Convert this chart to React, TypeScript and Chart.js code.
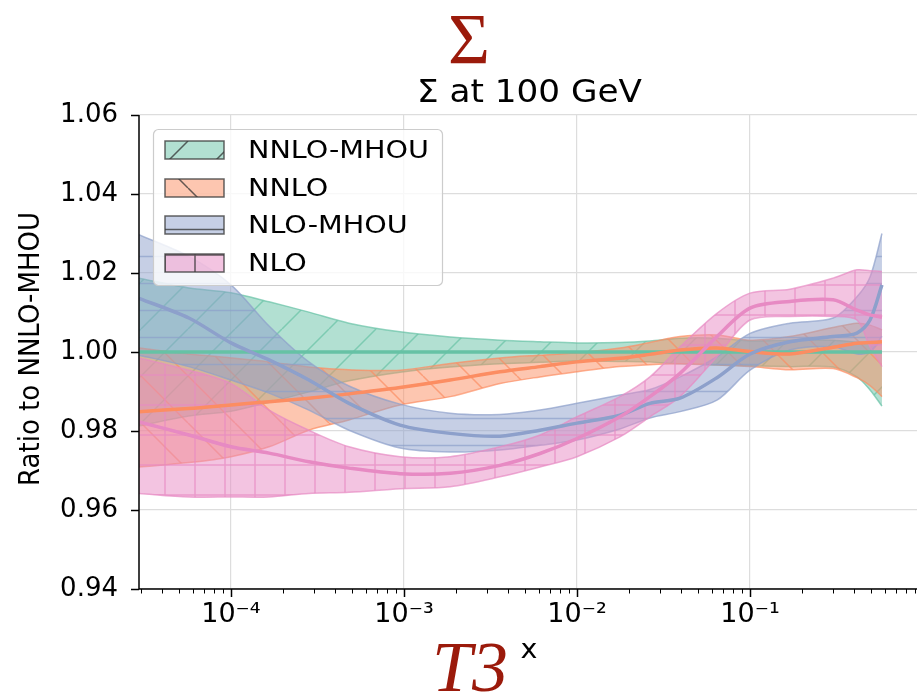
import React, { useEffect, useRef } from 'react';
import { Chart, registerables } from 'chart.js';

Chart.register(...registerables);

// ---------------- data ----------------
const X_VALUES = [
  2.94e-5, 5.71e-5, 1.0e-4, 1.66e-4, 2.82e-4, 4.81e-4, 9.49e-4, 1.85e-3, 3.59e-3, 6.11e-3,
  1.0e-2, 1.77e-2, 2.64e-2, 3.94e-2, 6.44e-2, 0.1, 0.17, 0.302, 0.415, 0.494, 0.579,
];

const NNLO_MHOU_CENTRAL = [
  1.0, 1.0, 1.0, 1.0, 1.0, 1.0, 1.0, 1.0, 1.0, 1.0, 1.0, 1.0, 1.0, 1.0, 1.0, 1.0, 1.0, 1.0, 1.0, 1.0, 1.0,
];
const NNLO_MHOU_UPPER = [
  1.0187, 1.0162, 1.015, 1.0127, 1.0101, 1.0073, 1.0051, 1.0038, 1.003, 1.0026,
  1.0023, 1.0024, 1.0028, 1.0035, 1.0035, 1.0028, 1.003, 1.003, 1.0025, 1.0022, 1.002,
];
const NNLO_MHOU_LOWER = [
  0.9813, 0.9838, 0.985, 0.9873, 0.9899, 0.9927, 0.9949, 0.9962, 0.997, 0.9974,
  0.9977, 0.9976, 0.9975, 0.997, 0.9967, 0.9965, 0.9963, 0.9962, 0.9937, 0.9904, 0.9863,
];

const NNLO_CENTRAL = [
  0.9849, 0.9857, 0.9866, 0.9874, 0.9883, 0.9894, 0.991, 0.9929, 0.995, 0.9963,
  0.9975, 0.9984, 0.9994, 1.0005, 1.001, 1.0001, 0.9995, 1.0012, 1.0022, 1.0024, 1.0026,
];
const NNLO_UPPER = [
  1.001, 0.9995, 0.9985, 0.9975, 0.9962, 0.9955, 0.9954, 0.9971, 0.9985, 0.9992,
  0.9998, 1.001, 1.0024, 1.0039, 1.0043, 1.003, 1.0039, 1.0062, 1.0073, 1.0068, 1.0056,
];
const NNLO_LOWER = [
  0.9709, 0.972, 0.9735, 0.976, 0.9802, 0.9828, 0.9866, 0.9887, 0.992, 0.9937,
  0.995, 0.9963, 0.9968, 0.997, 0.9967, 0.9963, 0.9955, 0.9958, 0.9935, 0.9915, 0.9887,
];

const NLO_MHOU_CENTRAL = [
  1.0136, 1.0086, 1.0023, 0.998, 0.9929, 0.987, 0.9815, 0.9794, 0.9787, 0.9802,
  0.982, 0.984, 0.987, 0.9883, 0.9935, 0.9995, 1.0026, 1.0039, 1.0048, 1.0081, 1.017,
];
const NLO_MHOU_UPPER = [
  1.0297, 1.0242, 1.017, 1.0066, 0.9975, 0.9914, 0.9868, 0.9845, 0.9842, 0.9853,
  0.987, 0.9891, 0.9905, 0.9937, 0.9988, 1.0047, 1.0073, 1.0086, 1.014, 1.019, 1.03,
];
const NLO_MHOU_LOWER = [
  0.9992, 0.9963, 0.9929, 0.9896, 0.9853, 0.9802, 0.9757, 0.9747, 0.9752, 0.9764,
  0.9777, 0.9805, 0.9833, 0.9849, 0.9878, 0.9954, 1.0005, 1.0013, 0.9995, 1.0, 1.004,
];

const NLO_CENTRAL = [
  0.9823, 0.979, 0.976, 0.9744, 0.9722, 0.9706, 0.9692, 0.9693, 0.9713, 0.9743,
  0.9781, 0.9836, 0.9887, 0.9946, 1.0039, 1.0111, 1.0128, 1.0132, 1.0106, 1.0094, 1.0088,
];
const NLO_UPPER = [
  0.9985, 0.9954, 0.992, 0.9853, 0.9802, 0.976, 0.9735, 0.9735, 0.976, 0.979,
  0.9836, 0.9887, 0.9937, 1.0013, 1.0098, 1.0149, 1.0159, 1.0187, 1.0208, 1.0206, 1.0204,
];
const NLO_LOWER = [
  0.9642, 0.9633, 0.9633, 0.9633, 0.9642, 0.9645, 0.9654, 0.9659, 0.9684, 0.9709,
  0.9735, 0.9785, 0.9836, 0.9887, 0.9988, 1.0081, 1.009, 1.009, 1.0081, 1.0013, 0.9963,
];

const SERIES_LABELS = ['NNLO-MHOU', 'NNLO', 'NLO-MHOU', 'NLO'];
const Y_TICKS = [0.94, 0.96, 0.98, 1.0, 1.02, 1.04, 1.06];
const X_TICK_VALUES = [1e-4, 1e-3, 1e-2, 1e-1];
const X_TICK_LABELS = ['10\u207B\u2074', '10\u207B\u00B3', '10\u207B\u00B2', '10\u207B\u00B9'];
const TITLE_TOP = '\u03A3';
const SUBTITLE = '\u03A3 at 100 GeV';
const XLABEL_BIG = 'T3';
const XLABEL = 'x';
const YLABEL = 'Ratio to NNLO-MHOU';

// ---------------- styling ----------------
const X_MIN = 2.94e-5;
const X_MAX = 0.923;
const W = 917;
const H = 695;
const PLOT_LEFT = 139;
const PLOT_TOP = 115;
const PLOT_BOTTOM = 589;

const STYLE = [
  { rgb: '102,194,165', hatch: '/', size: 47 },
  { rgb: '252,141,98', hatch: '\\', size: 47 },
  { rgb: '141,160,203', hatch: '-', size: 27 },
  { rgb: '231,138,195', hatch: '+', size: 30 },
];

const SERIES_DATA = [
  { c: NNLO_MHOU_CENTRAL, lo: NNLO_MHOU_LOWER, hi: NNLO_MHOU_UPPER },
  { c: NNLO_CENTRAL, lo: NNLO_LOWER, hi: NNLO_UPPER },
  { c: NLO_MHOU_CENTRAL, lo: NLO_MHOU_LOWER, hi: NLO_MHOU_UPPER },
  { c: NLO_CENTRAL, lo: NLO_LOWER, hi: NLO_UPPER },
];

function makePattern(rgb: string, hatch: string, size: number, hatchColor: string) {
  const c = document.createElement('canvas');
  c.width = size;
  c.height = size;
  const g = c.getContext('2d')!;
  g.fillStyle = `rgba(${rgb},0.5)`;
  g.fillRect(0, 0, size, size);
  g.strokeStyle = hatchColor;
  g.lineWidth = 1.5;
  g.beginPath();
  if (hatch === '/') {
    for (let k = -1; k <= 1; k++) {
      g.moveTo(k * size, size);
      g.lineTo(k * size + size, 0);
    }
  }
  if (hatch === '\\') {
    for (let k = -1; k <= 1; k++) {
      g.moveTo(k * size, 0);
      g.lineTo(k * size + size, size);
    }
  }
  if (hatch === '-' || hatch === '+') {
    g.moveTo(0, size / 2);
    g.lineTo(size, size / 2);
  }
  if (hatch === '+') {
    g.moveTo(size / 2, 0);
    g.lineTo(size / 2, size);
  }
  g.stroke();
  return g.createPattern(c, 'repeat')!;
}

const pts = (ys: number[]) => X_VALUES.map((x, i) => ({ x, y: ys[i] }));

const isPow10 = (v: number) => {
  if (!v || v <= 0) return false;
  const l = Math.log10(v);
  return Math.abs(l - Math.round(l)) < 1e-6;
};

function stretchedText(
  ctx: CanvasRenderingContext2D,
  text: string,
  x: number,
  y: number,
  sx: number,
  align: CanvasTextAlign,
) {
  ctx.save();
  ctx.translate(x, y);
  ctx.scale(sx, 1);
  ctx.textAlign = align;
  ctx.fillText(text, 0, 0);
  ctx.restore();
}

export default function App() {
  const ref = useRef<HTMLCanvasElement | null>(null);

  useEffect(() => {
    if (!ref.current) return;

    const bandPatterns = STYLE.map((s) => makePattern(s.rgb, s.hatch, s.size, `rgba(${s.rgb},0.7)`));
    const legendPatterns = STYLE.map((s) => makePattern(s.rgb, s.hatch, s.size, 'rgba(50,50,50,0.75)'));

    const datasets: any[] = [];
    for (let i = 0; i < 4; i++) {
      const s = STYLE[i];
      const d = SERIES_DATA[i];
      // central line: drawn above every band
      datasets.push({
        label: SERIES_LABELS[i],
        data: pts(d.c),
        borderColor: `rgb(${s.rgb})`,
        borderWidth: 3.5,
        pointRadius: 0,
        fill: false,
        tension: 0.3,
        order: 3 - i,
      });
    }
    for (let i = 0; i < 4; i++) {
      const s = STYLE[i];
      const d = SERIES_DATA[i];
      datasets.push({
        label: SERIES_LABELS[i] + ' upper',
        data: pts(d.hi),
        borderColor: `rgba(${s.rgb},0.7)`,
        borderWidth: 1.5,
        pointRadius: 0,
        backgroundColor: bandPatterns[i],
        fill: '+1',
        tension: 0.3,
        order: 20 - 2 * i,
      });
      datasets.push({
        label: SERIES_LABELS[i] + ' lower',
        data: pts(d.lo),
        borderColor: `rgba(${s.rgb},0.7)`,
        borderWidth: 1.5,
        pointRadius: 0,
        fill: false,
        tension: 0.3,
        order: 19 - 2 * i,
      });
    }

    const decor = {
      id: 'decor',
      afterDatasetsDraw(chart: any) {
        const { ctx, chartArea: a, scales } = chart;
        ctx.save();
        ctx.strokeStyle = '#000';
        ctx.lineCap = 'butt';
        ctx.lineWidth = 1.5;
        ctx.beginPath();
        ctx.moveTo(a.left, a.top);
        ctx.lineTo(a.left, a.bottom);
        ctx.lineTo(a.right, a.bottom);
        ctx.stroke();
        for (const v of Y_TICKS) {
          const py = Math.round(scales.y.getPixelForValue(v)) + 0.5;
          ctx.beginPath();
          ctx.moveTo(a.left - 8, py);
          ctx.lineTo(a.left, py);
          ctx.stroke();
        }
        for (let e = -5; e <= 0; e++) {
          for (let k = 1; k <= 9; k++) {
            const v = k * Math.pow(10, e);
            if (v < X_MIN || v > X_MAX) continue;
            const px = Math.round(scales.x.getPixelForValue(v)) + 0.5;
            ctx.lineWidth = k === 1 ? 1.5 : 1;
            ctx.beginPath();
            ctx.moveTo(px, a.bottom);
            ctx.lineTo(px, a.bottom + (k === 1 ? 8 : 4.5));
            ctx.stroke();
          }
        }
        ctx.restore();
      },
      afterDraw(chart: any) {
        const ctx: CanvasRenderingContext2D = chart.ctx;
        ctx.save();
        // legend frame
        ctx.beginPath();
        (ctx as any).roundRect(153.5, 129.5, 289, 156, 5);
        ctx.fillStyle = 'rgba(255,255,255,0.8)';
        ctx.fill();
        ctx.strokeStyle = '#cccccc';
        ctx.lineWidth = 1.2;
        ctx.stroke();
        ctx.font = '25px "DejaVu Sans"';
        const legScale = 181 / ctx.measureText('NNLO-MHOU').width;
        const rows = [150, 188, 225, 263];
        for (let i = 0; i < 4; i++) {
          const cy = rows[i];
          ctx.fillStyle = legendPatterns[i];
          ctx.fillRect(165, cy - 9, 59, 18);
          ctx.strokeStyle = 'rgba(60,60,60,0.8)';
          ctx.lineWidth = 1.5;
          ctx.strokeRect(165, cy - 9, 59, 18);
          ctx.fillStyle = '#000';
          ctx.textBaseline = 'middle';
          stretchedText(ctx, SERIES_LABELS[i], 248, cy + 1, legScale, 'left');
        }
        // titles
        ctx.textBaseline = 'alphabetic';
        ctx.fillStyle = '#9b1a0b';
        ctx.font = '72px "Liberation Serif"';
        stretchedText(ctx, TITLE_TOP, 469, 63, 42 / ctx.measureText(TITLE_TOP).width, 'center');
        ctx.font = 'italic 72px "Liberation Serif"';
        stretchedText(ctx, XLABEL_BIG, 470, 691, 76 / ctx.measureText(XLABEL_BIG).width, 'center');
        ctx.fillStyle = '#000';
        ctx.font = '32px "DejaVu Sans"';
        stretchedText(ctx, SUBTITLE, 529.5, 102, 225 / ctx.measureText(SUBTITLE).width, 'center');
        ctx.font = '26px "DejaVu Sans"';
        stretchedText(ctx, XLABEL, 529, 658, 1.1, 'center');
        // y label
        ctx.save();
        ctx.translate(31, 349);
        ctx.scale(1.12, 1);
        ctx.rotate(-Math.PI / 2);
        ctx.font = '26px "DejaVu Sans"';
        ctx.textAlign = 'center';
        ctx.textBaseline = 'middle';
        ctx.fillText(YLABEL, 0, 0);
        ctx.restore();
        ctx.restore();
      },
    };

    const chart = new Chart(ref.current, {
      type: 'line',
      data: { datasets },
      options: {
        animation: false,
        responsive: false,
        maintainAspectRatio: false,
        events: [],
        layout: { padding: { top: PLOT_TOP, right: 0, bottom: 0, left: 0 } },
        plugins: {
          legend: { display: false },
          tooltip: { enabled: false },
          title: { display: false },
        },
        scales: {
          x: {
            type: 'logarithmic',
            min: X_MIN,
            max: X_MAX,
            border: { display: false },
            grid: {
              drawTicks: false,
              lineWidth: 1.2,
              color: (c: any) => (c.tick && isPow10(c.tick.value) ? '#dddddd' : 'rgba(0,0,0,0)'),
            },
            ticks: {
              autoSkip: false,
              maxRotation: 0,
              minRotation: 0,
              padding: 10,
              color: '#000',
              font: { family: '"DejaVu Sans"', size: 27 },
              callback: (v: any) => {
                const val = Number(v);
                for (let i = 0; i < X_TICK_VALUES.length; i++) {
                  if (Math.abs(val / X_TICK_VALUES[i] - 1) < 1e-6) return X_TICK_LABELS[i];
                }
                return '';
              },
            },
            afterFit: (s: any) => {
              s.height = H - PLOT_BOTTOM;
              s.paddingLeft = 0;
              s.paddingRight = 0;
            },
          },
          y: {
            min: 0.94,
            max: 1.06,
            border: { display: false },
            grid: { drawTicks: false, lineWidth: 1.2, color: '#dddddd' },
            ticks: {
              stepSize: 0.02,
              padding: 21,
              color: '#000',
              font: { family: '"DejaVu Sans"', size: 26 },
              callback: (v: any) => Number(v).toFixed(2),
            },
            afterFit: (s: any) => {
              s.width = PLOT_LEFT;
              s.paddingTop = 0;
              s.paddingBottom = 0;
            },
          },
        },
      },
      plugins: [decor],
    } as any);

    return () => chart.destroy();
  }, []);

  return (
    <div style={{ position: 'fixed', left: 0, top: 0, width: W, height: H, background: '#fff' }}>
      <canvas ref={ref} width={W} height={H} style={{ display: 'block', width: W, height: H }} />
    </div>
  );
}
